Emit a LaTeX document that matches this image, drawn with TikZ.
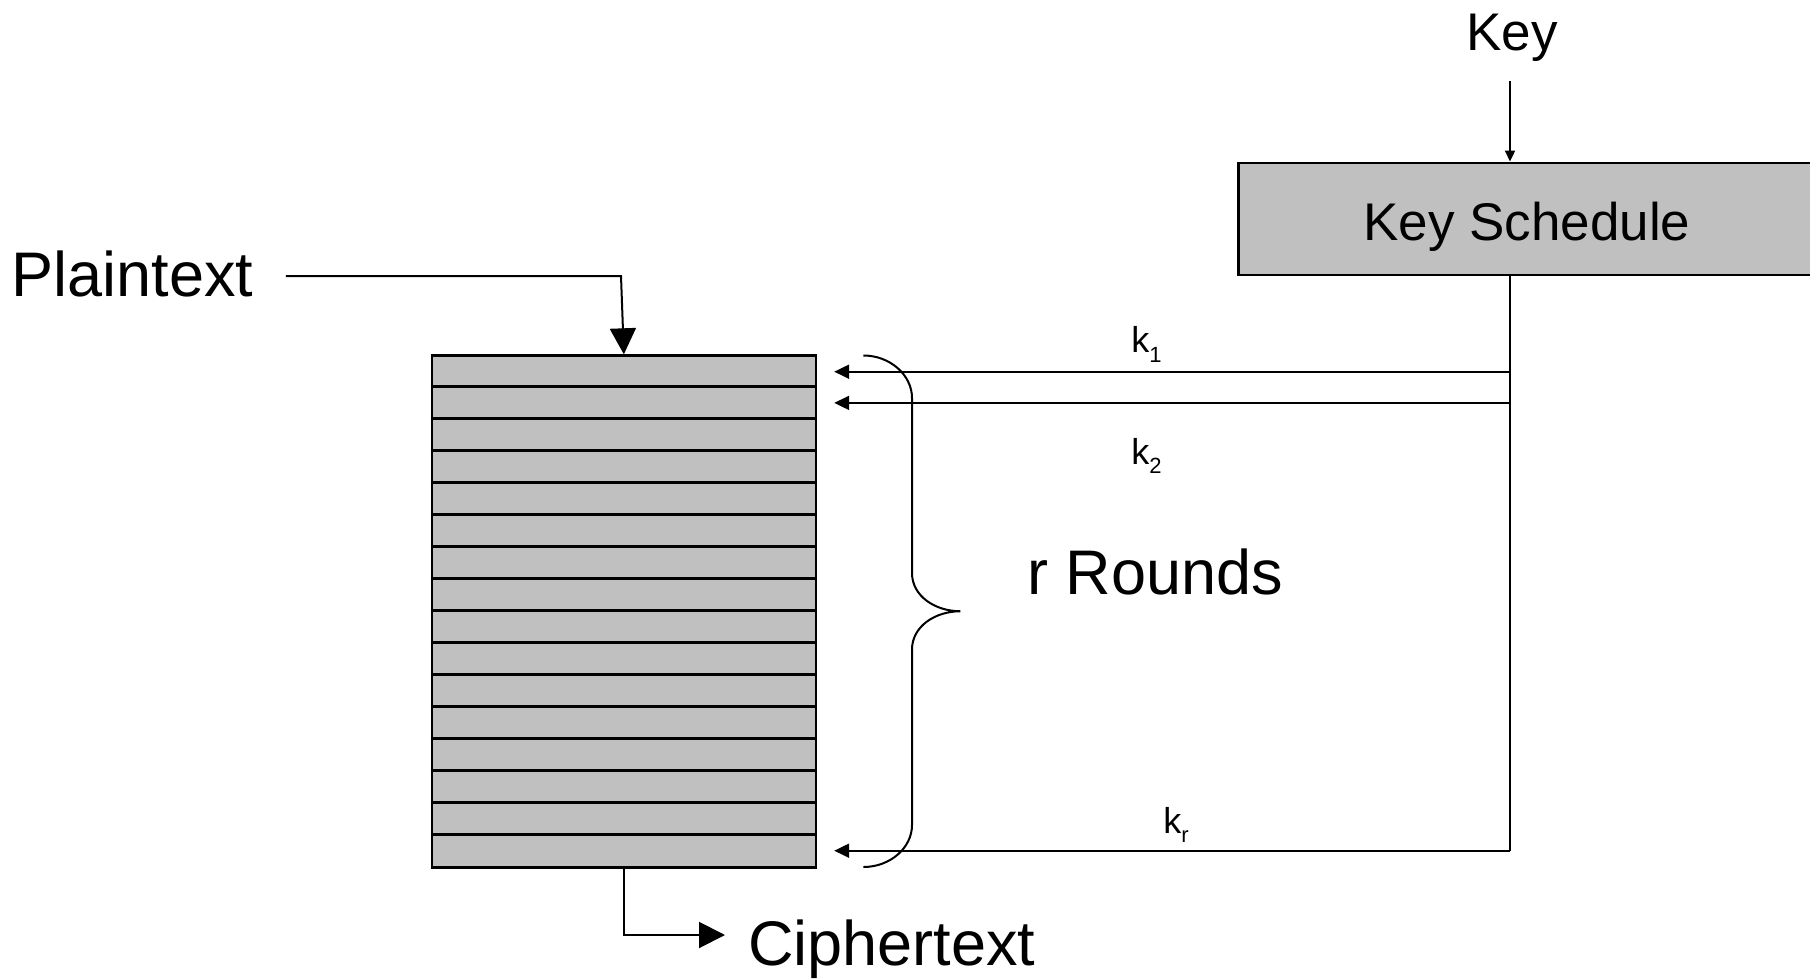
\documentclass[tikz,border=0pt]{standalone}
\usepackage{fontspec}
\setmainfont{Liberation Sans}
\usetikzlibrary{arrows.meta}
\definecolor{boxgray}{RGB}{192,192,192}
% round key label: k with a lowered index
\newcommand{\roundkey}[1]{k\raisebox{-4.8pt}{\fontsize{11}{12}\selectfont #1}}
\begin{document}
\begin{tikzpicture}[x=0.5pt,y=-0.5pt,
  conn/.style={line width=1pt, line join=miter},
  bigtip/.style={-{Triangle[length=13pt,width=13pt]}},
  ktip/.style={-{Triangle[length=7.5pt,width=7pt]}},
  smalltip/.style={-{Triangle[length=5.5pt,width=5pt]}},
  bigtext/.style={inner sep=0pt, font=\fontsize{31.5}{36}\selectfont},
  midtext/.style={inner sep=0pt, font=\fontsize{26.5}{30}\selectfont},
  keytext/.style={inner sep=0pt, font=\fontsize{18}{21}\selectfont},
  graybox/.style={draw, fill=boxgray, line width=1.2pt, inner sep=0pt}]
\useasboundingbox (0,0) rectangle (1810,979);

% cipher rounds: one block split into 16 round slices
\node[graybox, minimum width=192.15pt, minimum height=256pt] (stack) at (623.85,611.5) {};
\foreach \i in {1,...,15}
  \draw[line width=1.2pt] ([yshift=-\i*16pt]stack.north west) -- ([yshift=-\i*16pt]stack.north east);

% key schedule box, running off the right edge
\node[graybox, minimum width=288.2pt, minimum height=56pt, text height=21.3pt, text depth=0pt,
      font=\fontsize{26.5}{30}\selectfont] (ks) at (1526.8,218.75) {Key Schedule};

% labels
\node[midtext, anchor=base] (key) at (1512,51) {Key};
\node[bigtext, anchor=base west] (plain) at (11.5,296.6) {Plaintext};
\node[bigtext, anchor=base west] (cipher) at (748,965) {Ciphertext};
\node[bigtext, anchor=base west] (rounds) at (1027,594) {r Rounds};
\node[keytext, anchor=base west] (k1) at (1131,352.7) {\roundkey{1}};
\node[keytext, anchor=base west] (k2) at (1131,464) {\roundkey{2}};
\node[keytext, anchor=base west] (kr) at (1163,833) {\roundkey{r}};

% key input
\coordinate (bus) at (1510,850.7);
\draw[conn, smalltip] ([yshift=-9.5pt]key.south -| bus) -- (ks.north -| bus);

% plaintext in, ciphertext out
\coordinate (pbend) at (621,276);
\draw[conn, bigtip] ([xshift=16pt]plain.east |- pbend) -- (pbend) -- (stack.north);
\coordinate (cbend) at (623.85,935);
\draw[conn, bigtip] (stack.south) -- (cbend) -- ([xshift=-11.5pt]cipher.west |- cbend);

% round keys
\coordinate (j1) at (1510,371.7);
\coordinate (j2) at (1510,402.9);
\draw[conn] (ks.south -| bus) -- (bus);
\draw[conn, ktip] (bus) -- ([xshift=8.5pt]stack.east |- bus);
\draw[conn, ktip] (j1) -- ([xshift=8.5pt]stack.east |- j1);
\draw[conn, ktip] (j2) -- ([xshift=8.5pt]stack.east |- j2);

% brace spanning all rounds
\draw[conn] (863.4,355.5) .. controls (890,355.5) and (912,375) .. (912,398)
  -- (912,573) .. controls (912,596) and (935,611.25) .. (960.4,611.25)
  .. controls (935,611.25) and (912,626.5) .. (912,649.5)
  -- (912,825) .. controls (912,848) and (890,867) .. (863.4,867);
\end{tikzpicture}
\end{document}
